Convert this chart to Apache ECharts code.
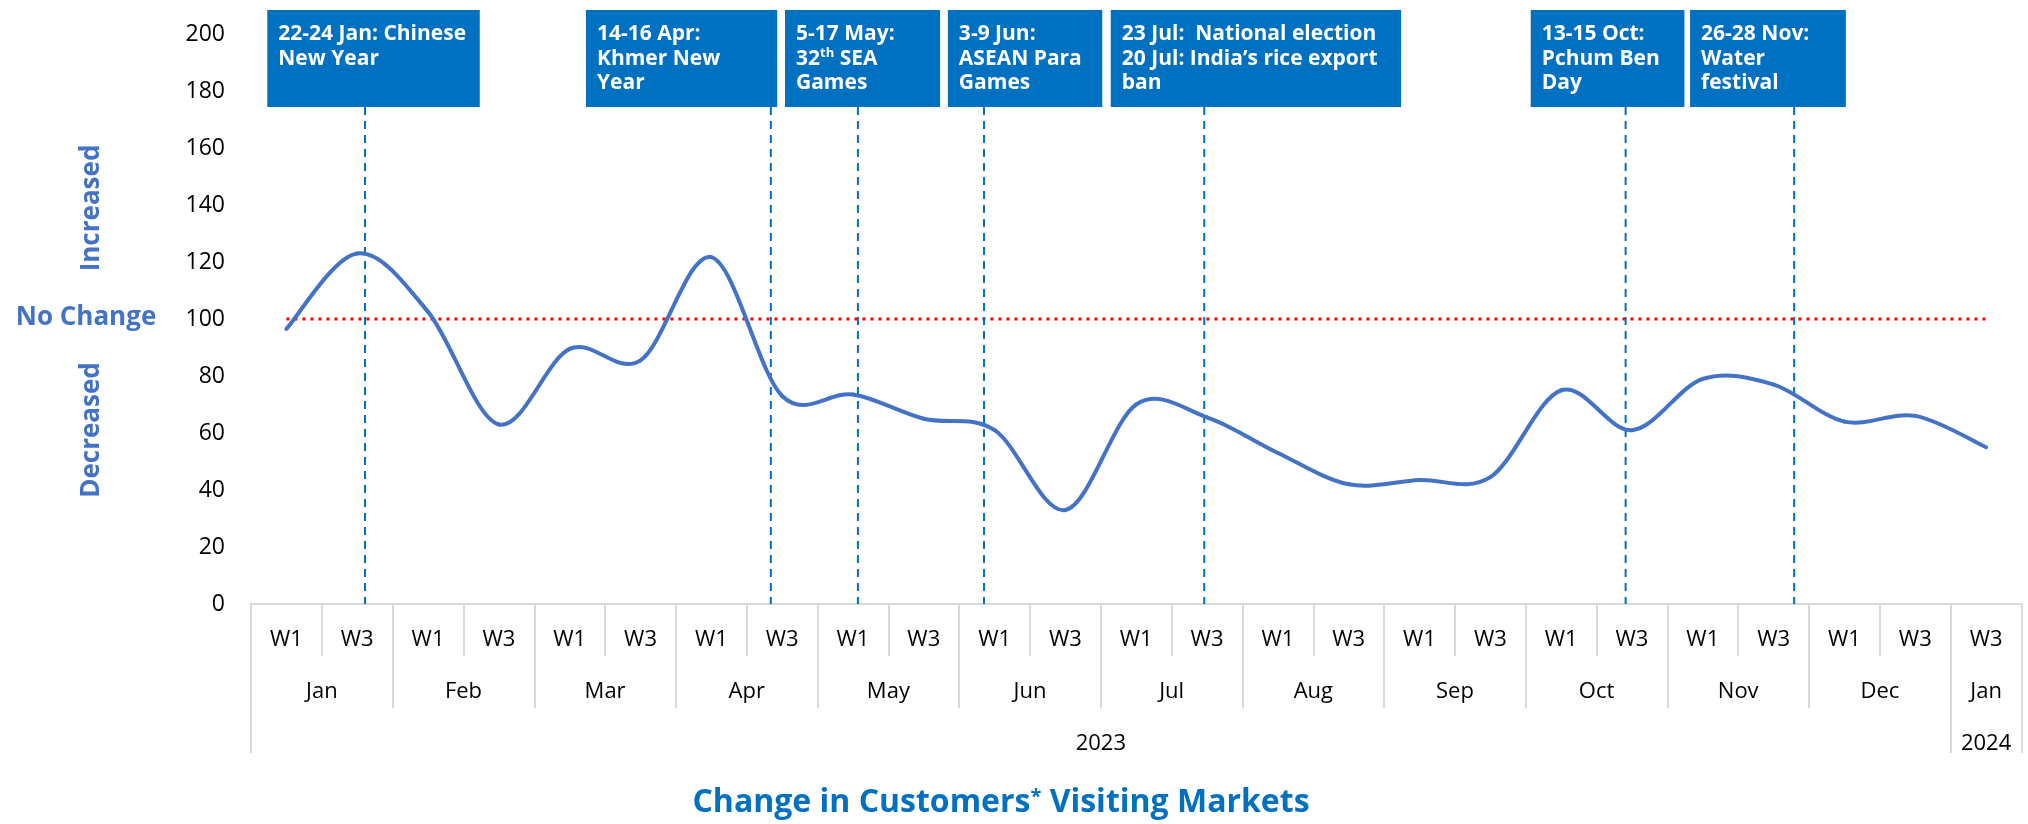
<!DOCTYPE html>
<html>
<head>
<meta charset="utf-8">
<script src="https://cdn.jsdelivr.net/npm/echarts@6/dist/echarts.min.js"></script>
<style>
  html, body { margin: 0; padding: 0; background: #fff; }
  #main { width: 2028px; height: 824px; }
</style>
</head>
<body>
<div id="main"></div>
<script>
// week columns of the multi-level x axis
var weekLabels = ['W1', 'W3', 'W1', 'W3', 'W1', 'W3', 'W1', 'W3', 'W1', 'W3', 'W1', 'W3',
  'W1', 'W3', 'W1', 'W3', 'W1', 'W3', 'W1', 'W3', 'W1', 'W3', 'W1', 'W3', 'W3'];
var monthNames = ['Jan', 'Feb', 'Mar', 'Apr', 'May', 'Jun', 'Jul', 'Aug', 'Sep', 'Oct', 'Nov', 'Dec', 'Jan'];
var monthWeeks = [2, 2, 2, 2, 2, 2, 2, 2, 2, 2, 2, 2, 1];
var yearNames = ['2023', '2024'];
var yearWeeks = [24, 1];
var yTicks = [0, 200, 20];

// change in customers visiting markets (100 = no change)
var customers = [96.5, 123, 102.5, 63, 89.5, 85.5, 121.7, 73, 73.5, 65, 61, 33,
  70, 65.5, 53, 42, 43.5, 44.5, 75, 61, 79, 77, 64, 66, 55];
var noChange = 100;

// events: position on the week scale (0 = left edge of Jan W1, 1 column per week)
var eventText = [
  '22-24 Jan: Chinese\nNew Year',
  '14-16 Apr:\nKhmer New\nYear',
  '5-17 May:\n32{sup|th} SEA\nGames',
  '3-9 Jun:\nASEAN Para\nGames',
  '23 Jul:  National election\n20 Jul: India\u2019s rice export\nban',
  '13-15 Oct:\nPchum Ben\nDay',
  '26-28 Nov:\nWater\nfestival'
];
var eventAt = [1.61, 7.34, 8.57, 10.35, 13.46, 19.41, 21.79];

// box layout on the same week scale
var boxFrom = [0.23, 4.73, 7.54, 9.84, 12.14, 18.07, 20.32];
var boxTo = [3.23, 7.43, 9.73, 12.02, 16.24, 20.24, 22.52];
var BOX_TOP = 208.4;
var BOX_BOTTOM = 174.4;

var LINE_BLUE = '#4472C4';
var BOX_BLUE = '#0070C0';
var SEP_GREY = '#D9D9D9';
var FONT = '"Open Sans", "Noto Sans", sans-serif';
var GRID_LEFT = 251, GRID_RIGHT = 6.5;

// spread group labels over their weeks: label sits at the middle column,
// shifted half a column when the group has an even number of weeks
function groupAxis(names, spans) {
  var labels = [], starts = [], s = 0;
  for (var i = 0; i < names.length; i++) {
    var n = spans[i];
    for (var k = 0; k < n; k++) { labels.push(''); starts.push(k === 0); }
    var mid = s + Math.floor((n - 1) / 2);
    labels[mid] = (n % 2 === 0 ? '{half|' : '{full|') + names[i] + '}';
    s += n;
  }
  return { labels: labels, starts: starts };
}
var monthAxis = groupAxis(monthNames, monthWeeks);
var yearAxis = groupAxis(yearNames, yearWeeks);

var chart = echarts.init(document.getElementById('main'));
var band = (2028 - GRID_LEFT - GRID_RIGHT) / weekLabels.length;

var labelRich = {
  half: { fontFamily: FONT, fontSize: 22, color: '#000', padding: [0, 0, 0, band] },
  full: { fontFamily: FONT, fontSize: 22, color: '#000' }
};

var eventData = [];
for (var i = 0; i < eventAt.length; i++) {
  eventData.push([eventAt[i], boxFrom[i], boxTo[i]]);
}
var curveData = customers.map(function (v, i) { return [i, v]; });

function renderEvent(params, api) {
  var tl = api.coord([api.value(1), BOX_TOP]);
  var br = api.coord([api.value(2), BOX_BOTTOM]);
  var lt = api.coord([api.value(0), BOX_BOTTOM]);
  var lb = api.coord([api.value(0), 0]);
  return {
    type: 'group',
    children: [
      {
        type: 'line',
        shape: { x1: lt[0], y1: lt[1], x2: lb[0], y2: lb[1] },
        style: { stroke: BOX_BLUE, lineWidth: 2, lineDash: [8, 6] }
      },
      {
        type: 'rect',
        shape: { x: tl[0], y: tl[1], width: br[0] - tl[0], height: br[1] - tl[1] },
        style: { fill: BOX_BLUE }
      },
      {
        type: 'text',
        x: tl[0] + 11,
        y: tl[1] + 12,
        style: {
          text: eventText[params.dataIndex],
          fill: '#fff',
          font: 'bold 21px ' + FONT,
          lineHeight: 24.5,
          verticalAlign: 'top',
          rich: {
            sup: { fontSize: 13, fontWeight: 'bold', fontFamily: FONT, fill: '#fff', verticalAlign: 'top' }
          }
        }
      }
    ]
  };
}

// smoothed line like the spreadsheet's: cardinal spline through every point,
// one bezier segment per week, positions taken from the axes
function renderCurve(params, api) {
  var i = params.dataIndex;
  var last = curveData.length - 1;
  if (i >= last) return null;
  function pt(k) {
    k = Math.max(0, Math.min(last, k));
    return api.coord(curveData[k]);
  }
  var p0 = pt(i - 1), p1 = pt(i), p2 = pt(i + 1), p3 = pt(i + 2);
  return {
    type: 'bezierCurve',
    shape: {
      x1: p1[0], y1: p1[1],
      x2: p2[0], y2: p2[1],
      cpx1: p1[0] + (p2[0] - p0[0]) / 6, cpy1: p1[1] + (p2[1] - p0[1]) / 6,
      cpx2: p2[0] - (p3[0] - p1[0]) / 6, cpy2: p2[1] - (p3[1] - p1[1]) / 6
    },
    style: { stroke: LINE_BLUE, lineWidth: 4, fill: null, lineCap: 'round' }
  };
}

var option = {
  animation: false,
  backgroundColor: '#fff',
  title: {
    text: 'Change in Customers{sup|*} Visiting Markets',
    left: 1001,
    top: 787,
    padding: 0,
    textAlign: 'center',
    textStyle: {
      fontFamily: FONT, fontSize: 32, fontWeight: 'bold', color: BOX_BLUE,
      rich: { sup: { fontFamily: FONT, fontSize: 20, fontWeight: 'bold', color: BOX_BLUE, verticalAlign: 'top' } }
    }
  },
  grid: { left: GRID_LEFT, right: GRID_RIGHT, top: 34, bottom: 220, containLabel: false },
  xAxis: [
    {
      type: 'category',
      position: 'bottom',
      data: weekLabels,
      axisLine: { lineStyle: { color: SEP_GREY, width: 2 } },
      axisTick: { show: true, interval: 0, length: 52, lineStyle: { color: SEP_GREY, width: 2 } },
      axisLabel: { interval: 0, margin: 25, fontFamily: FONT, fontSize: 22, color: '#000' },
      splitLine: { show: false }
    },
    {
      type: 'category',
      position: 'bottom',
      data: monthAxis.labels,
      axisLine: { show: false },
      axisTick: {
        show: true, length: 104, lineStyle: { color: SEP_GREY, width: 2 },
        interval: function (idx) { return monthAxis.starts[idx]; }
      },
      axisLabel: { interval: 0, margin: 77, rich: labelRich }
    },
    {
      type: 'category',
      position: 'bottom',
      data: yearAxis.labels,
      axisLine: { show: false },
      axisTick: {
        show: true, length: 149, lineStyle: { color: SEP_GREY, width: 2 },
        interval: function (idx) { return yearAxis.starts[idx]; }
      },
      axisLabel: { interval: 0, margin: 129, rich: labelRich }
    },
    {
      // plain week scale for the event markers
      type: 'value',
      min: 0,
      max: weekLabels.length,
      show: false
    }
  ],
  yAxis: {
    type: 'value',
    min: yTicks[0],
    max: yTicks[1],
    interval: yTicks[2],
    axisLine: { show: false },
    axisTick: { show: false },
    splitLine: { show: false },
    axisLabel: { margin: 26, fontFamily: FONT, fontSize: 23, color: '#000' }
  },
  graphic: [
    {
      type: 'text', x: 86, y: 318,
      style: { text: 'No Change', font: 'bold 26px ' + FONT, fill: LINE_BLUE, align: 'center', verticalAlign: 'middle' }
    },
    {
      type: 'text', x: 92, y: 208, rotation: Math.PI / 2,
      style: { text: 'Increased', font: 'bold 26px ' + FONT, fill: LINE_BLUE, align: 'center', verticalAlign: 'middle' }
    },
    {
      type: 'text', x: 92, y: 430, rotation: Math.PI / 2,
      style: { text: 'Decreased', font: 'bold 26px ' + FONT, fill: LINE_BLUE, align: 'center', verticalAlign: 'middle' }
    }
  ],
  series: [
    {
      name: 'No change',
      type: 'line',
      xAxisIndex: 0,
      data: weekLabels.map(function () { return noChange; }),
      symbol: 'none',
      lineStyle: { color: '#FF0000', width: 3, type: [3, 5] },
      z: 1
    },
    {
      name: 'Customers',
      type: 'custom',
      xAxisIndex: 0,
      data: curveData,
      renderItem: renderCurve,
      clip: false,
      silent: true,
      z: 3
    },
    {
      name: 'Events',
      type: 'custom',
      xAxisIndex: 3,
      data: eventData,
      renderItem: renderEvent,
      clip: false,
      silent: true,
      z: 2
    }
  ]
};

chart.setOption(option);
</script>
</body>
</html>
